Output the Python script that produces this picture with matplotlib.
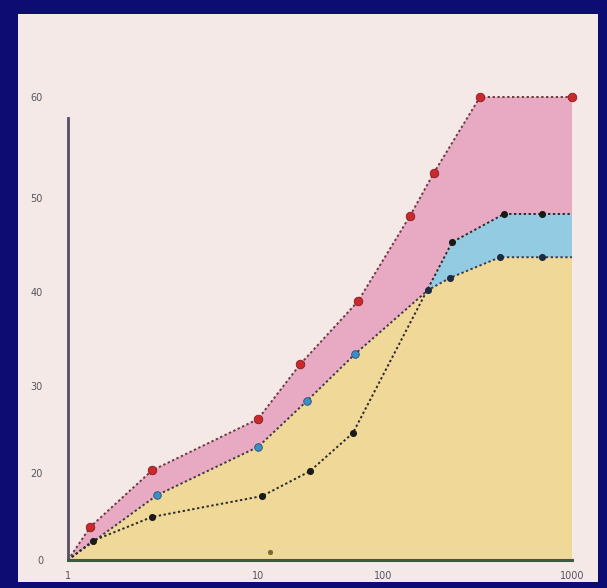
import numpy as np
import matplotlib
matplotlib.use("Agg")
import matplotlib.pyplot as plt
from matplotlib.patches import Rectangle

# values (x is on a log axis)
red_x = [1, 1.31, 2.77, 10, 21.7, 63, 139, 186, 326, 1000]
red_y = [0, 7.6, 20.3, 26.2, 32.3, 39.0, 48.1, 52.5, 60, 60]

blue_x = [1, 2.94, 10, 24.7, 59.7, 173, 226, 416, 693, 1000]
blue_y = [0, 14.9, 23.0, 28.3, 33.4, 40.2, 41.5, 43.7, 43.7, 43.7]

black_x = [1, 1.35, 2.77, 10.8, 26, 57.5, 232, 437, 693, 1000]
black_y = [0, 4.4, 9.9, 14.7, 20.2, 24.6, 45.3, 48.3, 48.3, 48.3]

# which points carry a marker (the end points at the right edge do not)
red_mk = [1, 2, 3, 4, 5, 6, 7, 8, 9]
blue_mk = [1, 2, 3, 4, 5, 6, 7, 8]
black_mk = [1, 2, 3, 4, 5, 6, 7, 8]

stray_x = [12.5]
stray_y = [1.8]

yticks = [0, 20, 30, 40, 50, 60]
xticks = [1, 10, 100, 1000]
xtick_labels = ["1", "10", "100", "1000"]

# the hand-drawn axes are not evenly spaced, so map them piecewise
ylab_pos = [0, 87, 174, 268, 362, 463]
xlog_pos = [0, 190, 315, 504]


def yfwd(v):
    return np.interp(v, yticks, ylab_pos)


def yinv(p):
    return np.interp(p, ylab_pos, yticks)


def xfwd(v):
    v = np.clip(np.asarray(v, dtype=float), 1e-3, None)
    return np.interp(np.log10(v), [0, 1, 2, 3], xlog_pos)


def xinv(p):
    return 10 ** np.interp(p, xlog_pos, [0, 1, 2, 3])


navy = "#0c0c72"
cream = "#f4e9e6"
pink = "#e8a9c2"
lightblue = "#93cbe3"
yellow = "#efd898"

fig = plt.figure(figsize=(6.07, 5.88), dpi=100, facecolor=navy)
fig.patches.append(Rectangle((18 / 607, 6 / 588), 580 / 607, 568 / 588,
                             transform=fig.transFigure, facecolor=cream,
                             edgecolor="none", zorder=-5))

ax = fig.add_axes([68 / 607, 28 / 588, 504 / 607, 463 / 588])
ax.set_facecolor("none")
ax.set_xscale("function", functions=(xfwd, xinv))
ax.set_yscale("function", functions=(yfwd, yinv))
ax.set_xlim(1, 1000)
ax.set_ylim(0, 60)

# layered fills: pink under red, blue under black, yellow under blue
ax.fill(red_x + [1000, 1], red_y + [0, 0], color=pink, lw=0, zorder=1)
ax.fill(black_x + [1000, 1], black_y + [0, 0], color=lightblue, lw=0, zorder=2)
ax.fill(blue_x + [1000, 1], blue_y + [0, 0], color=yellow, lw=0, zorder=3)

dots = (0, (1.2, 1.3))
ax.plot(red_x, red_y, color="#6a3a40", lw=1.4, ls=dots, zorder=4, clip_on=False)
ax.plot(blue_x, blue_y, color="#3a3a48", lw=1.4, ls=dots, zorder=4)
ax.plot(black_x, black_y, color="#2a2a2a", lw=1.4, ls=dots, zorder=4)

ax.scatter([red_x[i] for i in red_mk], [red_y[i] for i in red_mk], s=38,
           color="#c92a2c", edgecolor="#8a1a20", lw=0.6, zorder=5, clip_on=False)
ax.scatter([blue_x[i] for i in blue_mk[:4]], [blue_y[i] for i in blue_mk[:4]],
           s=30, color="#3d8ec4", edgecolor="#24507a", lw=0.6, zorder=5)
ax.scatter([blue_x[i] for i in blue_mk[4:]], [blue_y[i] for i in blue_mk[4:]],
           s=26, color="#1d2a44", lw=0, zorder=5)
ax.scatter([black_x[i] for i in black_mk], [black_y[i] for i in black_mk],
           s=26, color="#1a1a1a", lw=0, zorder=5)
ax.scatter(stray_x, stray_y, s=14, color="#7a6a30", lw=0, zorder=5)

for s in ["top", "right"]:
    ax.spines[s].set_visible(False)
ax.spines["left"].set_color("#555060")
ax.spines["left"].set_linewidth(2)
ax.spines["left"].set_bounds(0, 57.9)
ax.spines["bottom"].set_color("#3b5a40")
ax.spines["bottom"].set_linewidth(2.2)
ax.spines["left"].set_zorder(6)
ax.spines["bottom"].set_zorder(6)

ax.set_yticks(yticks)
ax.set_yticklabels([str(t) for t in yticks])
ax.set_xticks(xticks)
ax.set_xticklabels(xtick_labels)
ax.xaxis.set_minor_locator(matplotlib.ticker.NullLocator())
ax.yaxis.set_minor_locator(matplotlib.ticker.NullLocator())
ax.tick_params(axis="both", length=0, labelsize=7, labelcolor="#55555f")
ax.tick_params(axis="y", pad=18)
ax.tick_params(axis="x", pad=8)

fig.savefig("out.png", dpi=100, facecolor=navy)
